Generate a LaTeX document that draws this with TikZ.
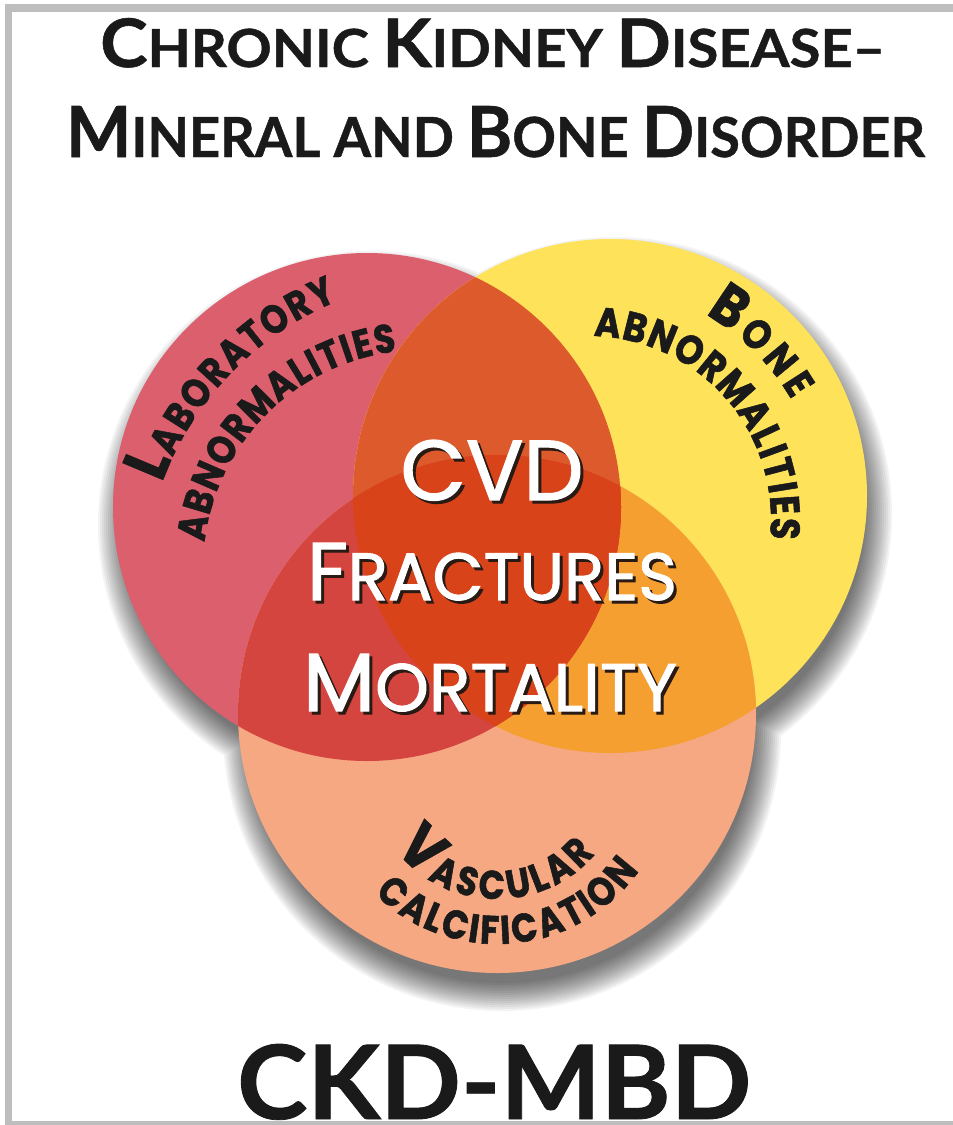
\documentclass[tikz,border=0pt]{standalone}
\usepackage{fontspec}
\usepackage{graphicx}
\usetikzlibrary{decorations.text}
\newfontfamily\lblfont{Poppins}[FakeStretch=0.86, BoldFeatures={FakeBold=1.4}]
\newfontfamily\ctrfont{Poppins}[FakeBold=1.5]
\newfontfamily\ttlfont{Lato}[BoldFeatures={FakeBold=0.8}]
\definecolor{redc}{HTML}{DB5F6D}
\definecolor{yelc}{HTML}{FDE25A}
\definecolor{pchc}{HTML}{F6A882}
\definecolor{ryc}{HTML}{DC5A2B}
\definecolor{rpc}{HTML}{D5453F}
\definecolor{ypc}{HTML}{F59F31}
\definecolor{allc}{HTML}{D8431A}
\definecolor{framec}{HTML}{BEBEBE}
\definecolor{inkc}{HTML}{1A1A1A}
\definecolor{shdc}{HTML}{2A1A14}
% title sizes
\newcommand\tBig{\fontsize{60}{60}\selectfont}
\newcommand\tSml{\fontsize{47}{47}\selectfont}
% label fonts
\newcommand\labL{\color{inkc}\lblfont\bfseries\fontsize{62}{62}\selectfont}
\newcommand\labS{\color{inkc}\lblfont\bfseries\fontsize{40}{40}\selectfont}
\newcommand\labB{\color{inkc}\lblfont\bfseries\fontsize{58}{58}\selectfont}
\newcommand\labY{\color{inkc}\lblfont\bfseries\fontsize{41}{41}\selectfont}
\newcommand\labV{\color{inkc}\lblfont\bfseries\fontsize{62}{62}\selectfont}
\newcommand\labP{\color{inkc}\lblfont\bfseries\fontsize{40}{40}\selectfont}
% centre texts
\newcommand\cBig{\fontsize{60}{60}\selectfont}
\newcommand\cSml{\fontsize{49}{49}\selectfont}
\newcommand\cvdtxt{\ctrfont\cBig CVD}
\newcommand\fractxt{\ctrfont\cBig F\cSml RACTURES}
\newcommand\morttxt{\ctrfont\cBig M\cSml ORTALITY}
\tikzset{
  ctr/.style={anchor=base, inner sep=0pt},
  ctrshadow/.style={anchor=base, inner sep=0pt, text=shdc},
  ttl/.style={anchor=base west, inner sep=0pt, text=inkc},
  arclabel/.style={decorate, decoration={text along path, text align={fit to path}, raise=#1}}
}
\begin{document}
\begin{tikzpicture}[x=1pt,y=1pt]
\useasboundingbox (0,0) rectangle (953,-1125);
\fill[white] (0,0) rectangle (953,-1125);

% circle centres
\coordinate (R) at (367,-507);
\coordinate (Y) at (610,-496);
\coordinate (P) at (497,-714);

% soft shadow
\foreach \d in {-8,-6,...,20}{
  \fill[black, opacity=0.048]
    ([shift={(5,-18)}]R) circle[radius=254+\d]
    ([shift={(5,-18)}]Y) circle[radius=257+\d]
    ([shift={(5,-18)}]P) circle[radius=259+\d];
}

% circles
\fill[redc] (R) circle[radius=254];
\fill[yelc] (Y) circle[radius=257];
\fill[pchc] (P) circle[radius=259];
\begin{scope}
  \clip (Y) circle[radius=257];
  \fill[ypc] (P) circle[radius=259];
\end{scope}
\begin{scope}
  \clip (R) circle[radius=254];
  \fill[ryc] (Y) circle[radius=257];
  \fill[rpc] (P) circle[radius=259];
  \clip (Y) circle[radius=257];
  \fill[allc] (P) circle[radius=259];
\end{scope}

% curved labels
\coordinate (c1) at (458,-593);
\coordinate (c2) at (421,-568);
\coordinate (c3) at (588,-519);
\coordinate (c4) at (497,-770);
\path[arclabel=-12pt, decoration={text={|\labL|L|\labS|ABORATORY}}]
  ([shift={(159.5:328)}]c1) arc[start angle=159.5, end angle=112.5, radius=328];
\path[arclabel=-12pt, decoration={text={|\labS|ABNORMALITIES}}]
  ([shift={(173:230)}]c2) arc[start angle=173, end angle=96.5, radius=230];
\path[arclabel=-12pt, decoration={text={|\labB|B|\labY|ONE}}]
  ([shift={(60:248)}]c3) arc[start angle=60, end angle=30.5, radius=248];
\path[arclabel=-12pt, decoration={text={|\labY|ABNORMALITIES}}]
  ([shift={(88:195)}]c3) arc[start angle=88, end angle=-6, radius=195];
\path[arclabel=-12pt, decoration={text={|\labV|V|\labP|ASCULAR}}]
  ([shift={(217:117)}]c4) arc[start angle=217, end angle=320, radius=117];
\path[arclabel=-12pt, decoration={text={|\labP|CALCIFICATION}}]
  ([shift={(225:162)}]c4) arc[start angle=225, end angle=325, radius=162];

% centre texts
\node[ctrshadow] (cvds) at (495,-503) {\resizebox{183pt}{60pt}{\cvdtxt}};
\node[ctr, text=white] (cvd) at (492,-500) {\resizebox{183pt}{60pt}{\cvdtxt}};
\node[ctrshadow] (fracs) at (495,-603) {\resizebox{370pt}{57pt}{\fractxt}};
\node[ctr, text=white] (frac) at (492,-600) {\resizebox{370pt}{57pt}{\fractxt}};
\node[ctrshadow] (morts) at (493,-714) {\resizebox{374pt}{57pt}{\morttxt}};
\node[ctr, text=white] (mort) at (490,-711) {\resizebox{374pt}{57pt}{\morttxt}};

% title
\node[ttl] (title1) at (100,-67) {\resizebox{785pt}{49pt}{\ttlfont\bfseries\tBig C\tSml HRONIC \tBig K\tSml IDNEY \tBig D\tSml ISEASE–}};
\node[ttl] (title2) at (66,-157) {\resizebox{859pt}{51pt}{\ttlfont\bfseries\tBig M\tSml INERAL AND \tBig B\tSml ONE \tBig D\tSml ISORDER}};

% bottom acronym
\node[ttl] (acr) at (237,-1119) {\resizebox{514pt}{75pt}{\ttlfont\bfseries\tBig CKD-MBD}};

% frame
\fill[framec] (5,-4) rectangle (953,-12);
\fill[framec] (5,-4) rectangle (12,-1125);
\fill[framec] (5,-1121) rectangle (953,-1125);
\end{tikzpicture}
\end{document}
